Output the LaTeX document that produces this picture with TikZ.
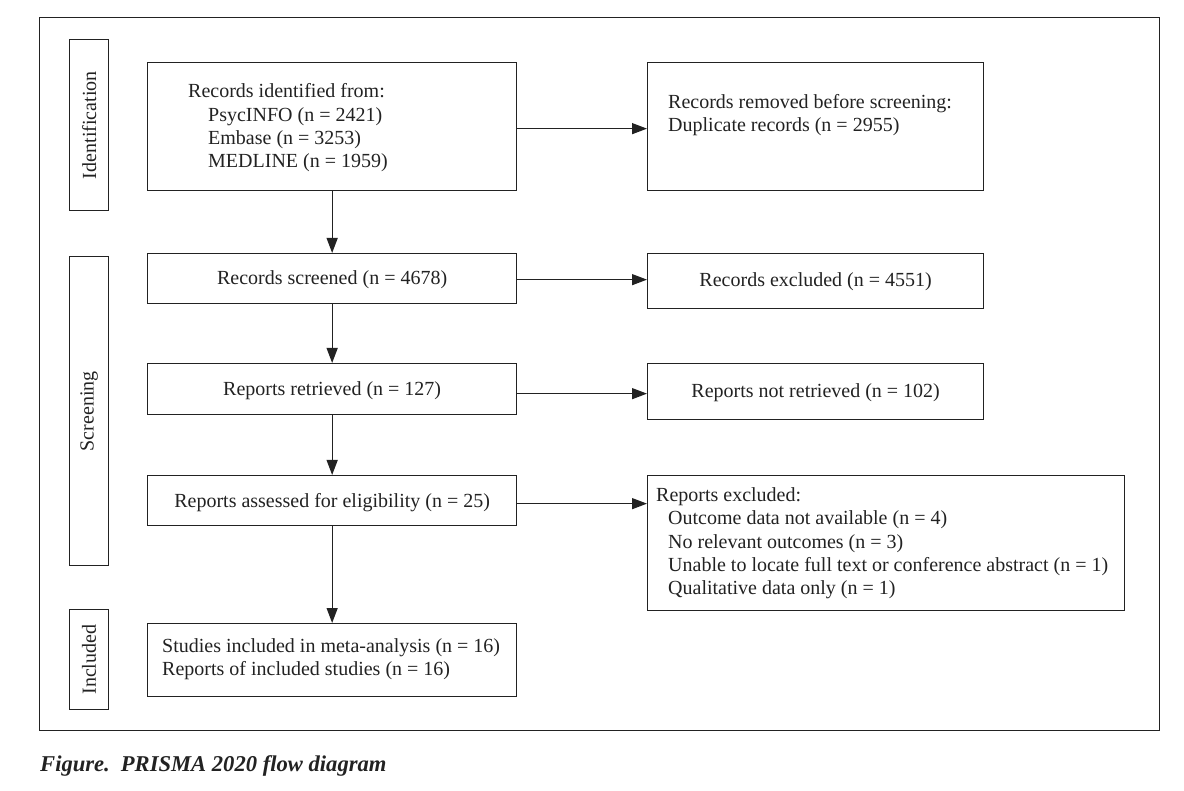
\documentclass[tikz,border=0pt]{standalone}
\usepackage{fontspec}
\setmainfont{Liberation Serif}
\usetikzlibrary{arrows.meta,calc}
\definecolor{ink}{RGB}{34,34,34}
\newcommand\fs{\fontsize{20}{23.3}\selectfont}
\begin{document}
\begin{tikzpicture}[x=1pt,y=-1pt,
  box/.style={draw=ink, line width=1.3pt, inner sep=0pt, anchor=north west, rectangle, text=ink, font=\fs},
  txt/.style={text=ink, font=\fs, inner sep=0pt, align=left},
  arr/.style={draw=ink, line width=1.3pt, -{Triangle[length=15pt,width=11pt]}}]
\useasboundingbox (0,0) rectangle (1184,791);
% outer frame
\node[box, minimum width=1120pt, minimum height=713pt] (frame) at (39,17) {};
% side labels
\node[box, minimum width=39pt, minimum height=171pt] (sid) at (69,39) {};
\node[txt, rotate=90] (tid) at (sid.center) {Identification};
\node[box, minimum width=39pt, minimum height=309pt] (ssc) at (69,256) {};
\node[txt, rotate=90] (tsc) at (ssc.center) {Screening};
\node[box, minimum width=39pt, minimum height=100pt] (sin) at (69,609) {};
\node[txt, rotate=90] (tin) at (sin.center) {Included};
% left column
\node[box, minimum width=369pt, minimum height=128pt] (b1) at (147,62) {};
\node[txt, anchor=west] (t1) at (188,128) {Records identified from:\\
\hspace*{20pt}PsycINFO (n = 2421)\\
\hspace*{20pt}Embase (n = 3253)\\
\hspace*{20pt}MEDLINE (n = 1959)};
\node[box, minimum width=369pt, minimum height=50pt] (scr) at (147,253) {};
\node[txt] (tscr) at ($(scr.center)+(0,1.5)$) {Records screened (n = 4678)};
\node[box, minimum width=369pt, minimum height=51pt] (ret) at (147,363) {};
\node[txt] (tret) at ($(ret.center)+(0,1.5)$) {Reports retrieved (n = 127)};
\node[box, minimum width=369pt, minimum height=50pt] (ass) at (147,475) {};
\node[txt] (tass) at ($(ass.center)+(0,1.5)$) {Reports assessed for eligibility (n = 25)};
\node[box, minimum width=369pt, minimum height=73pt] (inc) at (147,623) {};
\node[txt, anchor=west] (tinc) at (162,659.5) {Studies included in meta-analysis (n = 16)\\
Reports of included studies (n = 16)};
% right column
\node[box, minimum width=336pt, minimum height=128pt] (r1) at (647,62) {};
\node[txt, anchor=west] (tr1) at (668,115) {Records removed before screening:\\
Duplicate records (n = 2955)};
\node[box, minimum width=336pt, minimum height=55pt] (rex) at (647,253) {};
\node[txt] (trex) at ($(rex.center)+(0,1)$) {Records excluded (n = 4551)};
\node[box, minimum width=336pt, minimum height=56pt] (rnr) at (647,363) {};
\node[txt] (trnr) at ($(rnr.center)+(0,1)$) {Reports not retrieved (n = 102)};
\node[box, minimum width=477pt, minimum height=135pt] (rre) at (647,475) {};
\node[txt, anchor=west] (trre) at (656,543.5) {Reports excluded:\\
\hspace*{12pt}Outcome data not available (n = 4)\\
\hspace*{12pt}No relevant outcomes (n = 3)\\
\hspace*{12pt}Unable to locate full text or conference abstract (n = 1)\\
\hspace*{12pt}Qualitative data only (n = 1)};
% vertical arrows
\draw[arr] (b1.south) -- (scr.north);
\draw[arr] (scr.south) -- (ret.north);
\draw[arr] (ret.south) -- (ass.north);
\draw[arr] (ass.south) -- (inc.north);
% horizontal arrows
\coordinate (h1) at ($(b1.east)+(0,2)$);
\draw[arr] (h1) -- (h1 -| r1.west);
\coordinate (h2) at ($(scr.east)+(0,1)$);
\draw[arr] (h2) -- (h2 -| rex.west);
\coordinate (h3) at ($(ret.east)+(0,4.5)$);
\draw[arr] (h3) -- (h3 -| rnr.west);
\coordinate (h4) at ($(ass.east)+(0,3)$);
\draw[arr] (h4) -- (h4 -| rre.west);
% caption
\node[anchor=base west, inner sep=0pt, text=ink, font=\bfseries\itshape\fontsize{22.6}{26}\selectfont] (cap) at (40,771) {Figure.\hspace{11pt}PRISMA 2020 flow diagram};
\end{tikzpicture}
\end{document}
